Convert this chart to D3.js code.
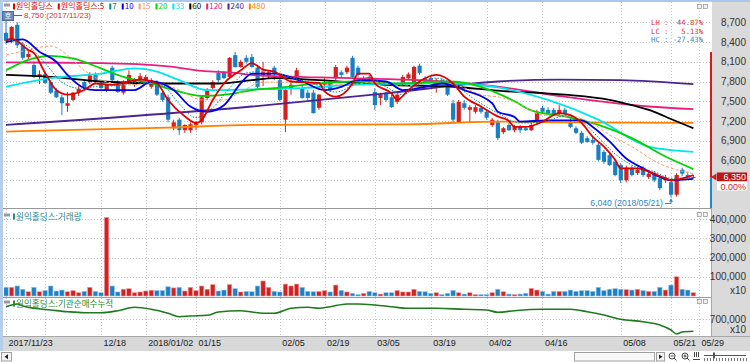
<!DOCTYPE html>
<html><head><meta charset="utf-8">
<script src="https://cdn.jsdelivr.net/npm/d3@7/dist/d3.min.js"></script>
<style>
html,body{margin:0;padding:0;background:#fff;overflow:hidden}
svg{display:block}
</style></head><body>
<svg id="chart" width="750" height="362" xmlns="http://www.w3.org/2000/svg"></svg>
<script>
// ================= DATA =================
const stockName = "원익홀딩스";
const volumeTitle = "원익홀딩스:거래량";
const instTitle = "원익홀딩스:기관순매수누적";

const open = [8540,8430,8660,8350,8170,8050,7880,7910,7790,7660, 7560,7430,7520,7640,7790,7790,7900,7780,7670,8010,
  7780,7630,7780,7750,7820,7820,7720,7790,7630,7560, 7090,7220,7060,7060,7140,7180,7550,7700,7930,7930,
  7870,8200,8020,8160,8170,8010,7880,7880,8010,7820, 7220,7700,7850,7700,7630,7630,7400,7750,7790,7850,
  7940,7940,8160,8010,7790,7870,7640,7550,7630,7560, 7490,7780,7850,7780,8040,7850,7850,7790,7820,7720,
  7470,7180,7470,7370,7340,7400,7340,7140,7180,7030, 7140,7060,7110,7090,7060,7180,7400,7370,7370,7320,
  7370,7180,7090,7020,6940,6910,6840,6730,6680,6580, 6530,6300,6490,6410,6490,6350,6410,6330,6300,6270,
  6080,6460,6380,6350];
const high = [8750,8640,8700,8400,8280,8100,7970,7940,7820,7700, 7600,7640,7640,7730,7820,7940,7940,7820,7760,8040,
  7820,7820,7970,7850,7930,7900,7850,7820,7640,7600, 7220,7250,7150,7180,7200,7580,7700,7820,7970,7960,
  8170,8250,8130,8200,8220,8040,8100,7970,8040,7840, 7700,7820,8010,7750,7670,7670,7610,7850,7820,8050,
  7970,8040,8190,8040,7880,7900,7700,7630,7640,7600, 7610,7900,7940,8040,8070,7880,7880,7850,7850,7750,
  7520,7520,7520,7440,7440,7430,7370,7250,7220,7110, 7170,7140,7140,7120,7170,7370,7430,7410,7400,7440,
  7400,7250,7120,7050,6970,6960,6870,6760,6710,6610, 6560,6520,6520,6490,6520,6430,6440,6360,6380,6300,
  6410,6490,6430,6380];
const low = [8370,8380,8310,8130,8130,7850,7760,7760,7610,7550, 7290,7340,7500,7580,7670,7760,7780,7690,7640,7790,
  7630,7600,7760,7720,7790,7790,7690,7580,7490,7180, 7060,6990,7020,7020,7060,7150,7520,7670,7790,7840,
  7850,8010,8010,8070,8010,7700,7730,7850,7820,7500, 7030,7600,7820,7540,7520,7310,7370,7700,7640,7820,
  7870,7910,7850,7870,7760,7760,7370,7440,7490,7400, 7460,7750,7820,7760,7900,7790,7780,7630,7750,7580,
  7180,7170,7370,7180,7310,7310,7220,7110,6910,7000, 7050,7030,7020,7050,7050,7150,7310,7290,7280,7260,
  7290,7090,7000,6850,6870,6840,6590,6550,6520,6360, 6260,6270,6360,6380,6350,6320,6270,6150,6260,6040,
  6050,6360,6330,6330];
const close = [8420,8630,8350,8160,8220,7870,7910,7780,7630,7560, 7470,7470,7630,7690,7700,7910,7790,7700,7750,7820,
  7640,7790,7900,7820,7880,7870,7820,7600,7520,7220, 7180,7060,7140,7150,7180,7560,7670,7790,7820,7850,
  8160,8020,8100,8100,8020,7720,7940,7940,7930,7520, 7670,7750,7970,7550,7550,7320,7600,7790,7670,8020,
  7900,8010,7870,7900,7850,7790,7440,7600,7520,7410, 7600,7870,7910,8020,7930,7820,7810,7820,7780,7600,
  7220,7490,7400,7410,7410,7340,7250,7220,6940,7090, 7060,7110,7060,7060,7140,7320,7340,7320,7290,7370,
  7320,7110,7020,6870,6880,6870,6610,6580,6530,6380, 6300,6490,6380,6460,6380,6400,6300,6180,6340,6080,
  6380,6400,6350,6350];
const volume = [45000,45000,52000,35000,22000,45000,22000,28000,52000,26000, 31000,22000,28000,17000,24000,45000,24000,17000,408000,52000,
  21000,35000,38000,17000,21000,26000,30000,28000,28000,48000, 42000,45000,26000,45000,28000,52000,35000,59000,26000,31000,
  59000,38000,21000,24000,22000,52000,78000,45000,24000,21000, 62000,52000,62000,45000,24000,22000,24000,28000,21000,57000,
  29000,21000,14000,7000,14000,24000,17000,10000,17000,17000, 28000,21000,21000,35000,24000,22000,14000,17000,7000,14000,
  29000,17000,10000,17000,7000,7000,7000,17000,35000,22000, 10000,7000,10000,14000,40000,31000,24000,10000,24000,24000,
  24000,31000,24000,28000,28000,24000,45000,28000,35000,38000, 35000,33000,31000,35000,28000,24000,24000,45000,31000,57000,
  100000,35000,31000,17000];

const dateTickIdx = [0,7,17,25,34,49,57,66,76,86,96,110,119,124];
const dateTickLabels = ["2017/11/23","","12/18","2018/01/02","01/15","02/05","02/19","03/05","03/19","04/02","04/16","05/08","05/21","05/29"];
const highDate = "2017/11/23";
const lowDate = "2018/05/21";
const priceTicks = [8700,8400,8100,7800,7500,7200,6900,6600];
const priceGridTicks = [8700,8400,8100,7800,7500,7200,6900,6600,6300];
const volumeTicks = [400000,300000,200000,100000];
const instTicks = [700000];
const upperLimit = 8250, lowerLimit = 4450;

const maPeriods = [5,7,10,15,20,33,60,120,240,480];
// moving averages: [day index, price]
const ma5 = [[0,8420],[1,8450],[4,8280],[5,8230],[7,7930],[9,7670],[11,7600],[14,7670],[16,7770],[19,7750],[22,7800],[24,7830],[27,7770],[29,7520],[32,7270],[34,7170],[35,7210],[37,7520],[39,7770],[42,7970],[44,8080],[46,7980],[48,7950],[51,7800],[53,7790],[56,7780],[57,7650],[59,7570],[62,7770],[63,7920],[65,7920],[66,7770],[69,7620],[70,7520],[72,7670],[75,7850],[77,7900],[80,7770],[82,7570],[85,7420],[88,7270],[90,7200],[91,7110],[93,7110],[96,7190],[99,7320],[101,7290],[103,7170],[105,6960],[107,6810],[109,6610],[110,6480],[113,6480],[115,6430],[118,6330],[119,6300],[122,6350],[123,6380]];
const ma7 = [[0,8440],[4,8330],[7,8080],[10,7790],[13,7700],[16,7720],[20,7740],[24,7790],[28,7740],[31,7460],[34,7250],[37,7400],[40,7700],[43,7930],[47,7960],[51,7860],[55,7770],[59,7640],[62,7740],[65,7860],[68,7720],[71,7600],[74,7760],[77,7850],[80,7760],[84,7520],[88,7320],[92,7170],[96,7180],[100,7280],[103,7200],[106,6950],[109,6700],[112,6530],[116,6430],[119,6330],[123,6340]];
const ma10 = [[0,8400],[3,8440],[6,8250],[9,8100],[11,7900],[14,7700],[16,7670],[19,7670],[23,7670],[26,7800],[30,7670],[33,7420],[36,7340],[39,7440],[42,7770],[44,7920],[48,7920],[53,7800],[57,7670],[60,7720],[63,7820],[68,7800],[71,7670],[75,7720],[78,7770],[82,7670],[87,7470],[88,7340],[91,7260],[92,7190],[97,7210],[103,7210],[105,7110],[108,6890],[111,6630],[114,6480],[117,6350],[119,6300],[123,6320]];
const ma15 = [[0,8200],[4,8280],[8,8340],[11,8200],[14,7970],[17,7820],[22,7750],[27,7780],[31,7670],[35,7520],[39,7520],[42,7640],[46,7790],[51,7790],[56,7750],[61,7750],[66,7790],[71,7730],[76,7770],[81,7730],[85,7600],[89,7550],[92,7450],[96,7290],[101,7270],[105,7160],[108,6990],[112,6810],[117,6550],[120,6460],[123,6400]];
const ma20 = [[0,7970],[4,8130],[8,8190],[12,8150],[17,8000],[21,7870],[26,7770],[30,7670],[35,7580],[41,7620],[44,7670],[48,7700],[56,7770],[62,7800],[70,7770],[79,7800],[85,7720],[88,7620],[91,7500],[94,7360],[100,7270],[106,7140],[112,6940],[118,6660],[123,6470]];
const ma33 = [[0,7720],[8,7850],[17,7920],[23,8000],[27,7950],[31,7820],[36,7670],[44,7680],[53,7700],[62,7750],[74,7770],[80,7770],[88,7710],[97,7520],[106,7220],[115,6810],[123,6730]];
const ma60 = [[0,7900],[8,7870],[17,7800],[29,7770],[38,7770],[44,7820],[48,7850],[56,7820],[68,7750],[80,7720],[88,7660],[100,7600],[108,7520],[112,7440],[116,7340],[119,7230],[123,7090]];
const ma120 = [[0,8090],[17,8080],[29,8030],[35,7960],[41,7930],[44,7900],[62,7850],[74,7820],[88,7720],[100,7570],[115,7420],[123,7380]];
const ma240 = [[0,7140],[44,7420],[68,7620],[88,7800],[99,7830],[110,7820],[123,7760]];
const ma480 = [[0,7040],[29,7100],[44,7140],[72,7150],[88,7190],[100,7180],[123,7170]];

// institutional net-buy cumulative: [day index, value]
const instCum = [[0,823000],[1,840000],[2,850000],[3,830000],[5,807000],[8,790000],[11,773000],[14,763000],[17,763000],[20,783000],[23,817000],[26,797000],[29,757000],[31,723000],[33,730000],[36,737000],[38,770000],[42,783000],[44,770000],[46,757000],[48,757000],[51,807000],[54,817000],[56,807000],[58,823000],[61,850000],[63,850000],[66,840000],[69,823000],[72,807000],[77,807000],[82,797000],[86,790000],[88,767000],[91,783000],[96,797000],[101,797000],[104,773000],[107,740000],[110,697000],[114,673000],[117,640000],[119,590000],[120,550000],[121,570000],[123,577000]];

// ================= RENDER =================
const maData = {5:ma5,7:ma7,10:ma10,15:ma15,20:ma20,33:ma33,60:ma60,120:ma120,240:ma240,480:ma480};
const maStyle = {5:{c:'#e00000',w:1.8},7:{c:'#008b8b',w:1,d:'1.5,1.5'},10:{c:'#0000e6',w:1.8},15:{c:'#ff9a6a',w:1,d:'3,2'},
  20:{c:'#00d400',w:1.8},33:{c:'#00e5f0',w:1.8},60:{c:'#000000',w:1.8},120:{c:'#e8207f',w:1.8},240:{c:'#4b2590',w:1.8},480:{c:'#ff8000',w:1.8}};
const UP='#d42020', DOWN='#1b7fc4';
const KR = '"Noto Sans CJK KR","Noto Sans",sans-serif';
const LAT = '"Liberation Sans",Arial,sans-serif';

const svg = d3.select('#chart');
const PL=4, PR=711;
const x = d3.scaleLinear().domain([17,119]).range([101,671]);
const yP = d3.scaleLinear().domain([6600,7800]).range([160.5,81.5]);
const yV = d3.scaleLinear().domain([0,400000]).range([296,219]);
const yI = d3.scaleLinear().domain([700000,800000]).range([319,309]);
const fmt = d3.format(',');
const idx = d3.range(close.length);
const isUp = i => close[i] >= open[i];

const defs = svg.append('defs');
[['cP',2,208],['cV',209,297],['cI',298,336]].forEach(([id,a,b])=>{
  defs.append('clipPath').attr('id',id).append('rect').attr('x',PL).attr('y',a).attr('width',PR-PL).attr('height',b-a);
});

// backgrounds
svg.append('rect').attr('width',750).attr('height',362).attr('fill','#ffffff');
svg.append('rect').attr('x',712).attr('y',0).attr('width',38).attr('height',337).attr('fill','#dadada');
svg.append('rect').attr('x',0).attr('y',337).attr('width',750).attr('height',14).attr('fill','#d8d8d8');
svg.append('line').attr('x1',0).attr('x2',750).attr('y1',336.5).attr('y2',336.5).attr('stroke','#a8a8a8');
svg.append('rect').attr('x',0).attr('y',0).attr('width',750).attr('height',2).attr('fill','#a8c8ec');
svg.append('rect').attr('x',0).attr('y',0).attr('width',3).attr('height',351).attr('fill','#b4cde8');

// grid
const grid = svg.append('g').attr('stroke','#c6c6c6').attr('stroke-dasharray','1,2').attr('shape-rendering','crispEdges');
const vSeg = [];
dateTickIdx.forEach(i=>[[2,208],[209,297],[298,336]].forEach(s=>vSeg.push({i,a:s[0],b:s[1]})));
grid.selectAll('line.v').data(vSeg).join('line')
  .attr('x1',d=>Math.round(x(d.i))+0.5).attr('x2',d=>Math.round(x(d.i))+0.5).attr('y1',d=>d.a).attr('y2',d=>d.b);
grid.selectAll('line.p').data(priceGridTicks).join('line')
  .attr('x1',PL).attr('x2',PR).attr('y1',d=>Math.round(yP(d))+0.5).attr('y2',d=>Math.round(yP(d))+0.5);
grid.selectAll('line.vv').data(volumeTicks).join('line')
  .attr('x1',PL).attr('x2',PR).attr('y1',d=>Math.round(yV(d))+0.5).attr('y2',d=>Math.round(yV(d))+0.5);
grid.selectAll('line.ii').data(instTicks).join('line')
  .attr('x1',PL).attr('x2',PR).attr('y1',d=>Math.round(yI(d))+0.5).attr('y2',d=>Math.round(yI(d))+0.5);

// panel separators
[208.5,297.5].forEach(yy=>svg.append('line').attr('x1',3).attr('x2',712).attr('y1',yy).attr('y2',yy).attr('stroke','#9a9a9a'));
svg.append('line').attr('x1',711.5).attr('x2',711.5).attr('y1',208).attr('y2',336).attr('stroke','#a8a8a8');

// candles
const gC = svg.append('g').attr('clip-path','url(#cP)');
gC.selectAll('line.w').data(idx).join('line')
  .attr('x1',i=>x(i)).attr('x2',i=>x(i)).attr('y1',i=>yP(high[i])).attr('y2',i=>yP(low[i]))
  .attr('stroke',i=>isUp(i)?UP:DOWN).attr('stroke-width',1);
gC.selectAll('rect.b').data(idx).join('rect')
  .attr('x',i=>x(i)-2).attr('width',4.2)
  .attr('y',i=>yP(Math.max(open[i],close[i])))
  .attr('height',i=>Math.max(1,Math.abs(yP(open[i])-yP(close[i]))))
  .attr('fill',i=>isUp(i)?UP:DOWN);

// moving averages
const line = d3.line().x(d=>x(d[0])).y(d=>yP(d[1])).curve(d3.curveMonotoneX);
const gM = svg.append('g').attr('clip-path','url(#cP)').attr('fill','none');
[480,240,120,60,33,20,15,10,7,5].forEach(p=>{
  const s = maStyle[p];
  gM.append('path').datum(maData[p]).attr('d',line).attr('stroke',s.c).attr('stroke-width',s.w)
    .attr('stroke-dasharray',s.d||null).attr('stroke-linejoin','round');
});

// volume
const gV = svg.append('g').attr('clip-path','url(#cV)');
gV.selectAll('rect').data(idx).join('rect')
  .attr('x',i=>x(i)-2.2).attr('width',4.4)
  .attr('y',i=>yV(volume[i])).attr('height',i=>yV(0)-yV(volume[i]))
  .attr('fill',i=>isUp(i)?'#cf2222':'#1e80c2')
  .attr('stroke',i=>isUp(i)?'#f29a9a':'#8cc4ea').attr('stroke-width',0.6);

// institutional cumulative
svg.append('g').attr('clip-path','url(#cI)').append('path').datum(instCum)
  .attr('d',d3.line().x(d=>x(d[0])).y(d=>yI(d[1])).curve(d3.curveMonotoneX))
  .attr('fill','none').attr('stroke','#1d7a1d').attr('stroke-width',1.6);

// right axes
function styleAxis(g){ g.select('.domain').remove(); g.selectAll('line').remove();
  g.attr('font-family',LAT).attr('font-size',10); g.selectAll('text').attr('fill','#333'); }
svg.append('g').attr('transform','translate(746,0)')
  .call(d3.axisLeft(yP).tickValues(priceTicks).tickFormat(fmt).tickSize(0).tickPadding(0)).call(styleAxis);
svg.append('g').attr('transform','translate(746,0)')
  .call(d3.axisLeft(yV).tickValues(volumeTicks).tickFormat(fmt).tickSize(0).tickPadding(0)).call(styleAxis);
svg.append('g').attr('transform','translate(746,0)')
  .call(d3.axisLeft(yI).tickValues(instTicks).tickFormat(fmt).tickSize(0).tickPadding(0)).call(styleAxis);
[[291],[330]].forEach(([yy])=>svg.append('text').attr('x',746).attr('y',yy).attr('dy','0.32em').attr('text-anchor','end')
  .attr('font-family',LAT).attr('font-size',10).attr('fill','#333').text('x10'));

// current price markers
const last = close[close.length-1], prev = close[close.length-2];
svg.append('line').attr('x1',711).attr('x2',711).attr('y1',yP(upperLimit)).attr('y2',yP(last)).attr('stroke','#d41c1c').attr('stroke-width',2);
svg.append('line').attr('x1',711).attr('x2',711).attr('y1',yP(last)).attr('y2',Math.min(208,yP(lowerLimit))).attr('stroke','#1e88c8').attr('stroke-width',2);
const ly = yP(last);
svg.append('path').attr('d',`M711,${ly}L716.5,${ly-3.5}L716.5,${ly+3.5}Z`).attr('fill','#d41c1c');
svg.append('rect').attr('x',717).attr('y',ly-4.5).attr('width',30).attr('height',9).attr('fill','#b81818');
svg.append('text').attr('x',746).attr('y',ly-0.5).attr('dy','0.34em').attr('text-anchor','end').attr('font-family',LAT).attr('font-size',9).attr('fill','#fff').text(fmt(last));
svg.append('rect').attr('x',717).attr('y',ly+4.5).attr('width',30).attr('height',9).attr('fill','#ffffff');
svg.append('text').attr('x',746).attr('y',ly+9.5).attr('dy','0.34em').attr('text-anchor','end').attr('font-family',LAT).attr('font-size',9).attr('fill','#d41c1c')
  .text(((last-prev)/prev*100).toFixed(2)+'%');

// date axis
const xAx = svg.append('g').attr('transform','translate(0,338)')
  .call(d3.axisBottom(x).tickValues(dateTickIdx).tickFormat((d,k)=>dateTickLabels[k]).tickSize(0).tickPadding(0));
xAx.select('.domain').remove();
xAx.attr('font-family',LAT).attr('font-size',9);
xAx.selectAll('text').attr('text-anchor','start').attr('dx',2).attr('dy','0.71em').attr('y',1.5).attr('fill','#222');

// stats text
const hi = d3.max(high), lo = d3.min(low);
const hiI = high.indexOf(hi), loI = low.indexOf(lo);
const pct = v => (v>=0?' ':'')+v.toFixed(2)+'%';
const stats = [['LH : ',(hi-lo)/lo*100,'#e03030'],['LC : ',(last-lo)/lo*100,'#e03030'],['HC : ',(last-hi)/hi*100,'#2a86c8']];
stats.forEach((s,k)=>{
  svg.append('text').attr('x',703).attr('y',23+k*8.4).attr('dy','0.34em').attr('text-anchor','end')
    .attr('font-family','"DejaVu Sans Mono","Liberation Mono",monospace').attr('font-size',7.2).attr('fill',s[2])
    .attr('xml:space','preserve').style('white-space','pre').text(s[0]+pct(s[1]).padStart(7,' '));
});

// low annotation
const lx = x(loI), lyy = yP(lo);
svg.append('text').attr('x',663).attr('y',203.5).attr('dy','0.34em').attr('text-anchor','end')
  .attr('font-family',LAT).attr('font-size',8.6).attr('fill','#2a86c8').text(`${fmt(lo)} (${lowDate})`);
svg.append('path').attr('d',`M665,203.5H${lx}V${lyy+2}`).attr('fill','none').attr('stroke','#2a86c8');
svg.append('path').attr('d',`M${lx},${lyy+1}l-2,3.5h4Z`).attr('fill','#2a86c8');

// high annotation
const hx = x(hiI), hyy = yP(hi);
svg.append('path').attr('d',`M${hx},${hyy-1}V15.5H22`).attr('fill','none').attr('stroke','#d03030');
svg.append('text').attr('x',24).attr('y',15.5).attr('dy','0.34em')
  .attr('font-family',LAT).attr('font-size',8).attr('fill','#d03030').text(`${fmt(hi)} (${highDate})`);

// legends
function legend(y, items, fs, gap){
  let cx = 13;
  svg.append('rect').attr('x',4).attr('y',y-3).attr('width',6).attr('height',3).attr('fill','#9a9a9a');
  items.forEach(it=>{
    svg.append('rect').attr('x',cx).attr('y',y-3).attr('width',2).attr('height',6).attr('fill',it.c);
    const t = svg.append('text').attr('x',cx+3).attr('y',y).attr('dy','0.36em')
      .attr('font-family',KR).attr('font-size',fs).attr('fill',it.c).text(it.t);
    cx += 3 + t.node().getComputedTextLength() + gap;
  });
}
legend(6.5, [{t:stockName,c:'#e00000'},{t:stockName+':'+maPeriods[0],c:maStyle[5].c}]
  .concat(maPeriods.slice(1).map(p=>({t:String(p),c:maStyle[p].c}))), 8, 5);
legend(216.5, [{t:volumeTitle,c:'#1f8a8a'}], 8.6, 4);
legend(303.5, [{t:instTitle,c:'#2a8a2a'}], 8.6, 4);

// "호" button
svg.append('rect').attr('x',2.5).attr('y',11.5).attr('width',11).attr('height',9).attr('fill','#6d8bb8').attr('stroke','#4d6c9c');
svg.append('text').attr('x',8).attr('y',16).attr('dy','0.35em').attr('text-anchor','middle').attr('font-family',KR).attr('font-size',7).attr('fill','#fff').text('호');

// small panel buttons
[4,212,299].forEach(yy=>{
  [697,703].forEach(xx=>svg.append('rect').attr('x',xx+0.5).attr('y',yy+0.5).attr('width',4).attr('height',4)
    .attr('fill','#f0f0f0').attr('stroke','#909090').attr('stroke-width',0.7));
});

// bottom scroll bar
svg.append('rect').attr('x',1.5).attr('y',352.5).attr('width',10).attr('height',8.5).attr('fill','#f4f4f4').attr('stroke','#a0a0a0');
svg.append('path').attr('d','M4.5,356.75l3.5,-2.5v5Z').attr('fill','#222');
svg.append('rect').attr('x',574.5).attr('y',352.5).attr('width',80).attr('height',8.5).attr('fill','#f8f8f8').attr('stroke','#a0a0a0');
svg.append('rect').attr('x',656.5).attr('y',352.5).attr('width',8).attr('height',8.5).attr('fill','#f4f4f4').attr('stroke','#a0a0a0');
svg.append('path').attr('d','M659,354.5l3.5,2.25l-3.5,2.25Z').attr('fill','#222');
[[672,'−'],[685,'+']].forEach(([cx,s])=>{
  svg.append('circle').attr('cx',cx).attr('cy',356).attr('r',3).attr('fill','none').attr('stroke','#444');
  svg.append('line').attr('x1',cx+2).attr('y1',358).attr('x2',cx+4.5).attr('y2',360.5).attr('stroke','#444');
  svg.append('line').attr('x1',cx-1.5).attr('x2',cx+1.5).attr('y1',356).attr('y2',356).attr('stroke','#444');
  if(s==='+') svg.append('line').attr('x1',cx).attr('x2',cx).attr('y1',354.5).attr('y2',357.5).attr('stroke','#444');
});
[694,696,698].forEach(xx=>svg.append('line').attr('x1',xx+0.5).attr('x2',xx+0.5).attr('y1',352).attr('y2',357).attr('stroke','#444'));
svg.append('line').attr('x1',693).attr('x2',700).attr('y1',359.5).attr('y2',359.5).attr('stroke','#444');
svg.append('line').attr('x1',704).attr('x2',746).attr('y1',355.5).attr('y2',355.5).attr('stroke','#555');
svg.append('rect').attr('x',713).attr('y',352.5).attr('width',2).attr('height',6).attr('fill','#555');
d3.range(704,747,3).forEach(xx=>svg.append('line').attr('x1',xx+0.5).attr('x2',xx+0.5).attr('y1',358).attr('y2',361).attr('stroke','#777'));
</script>
</body></html>
